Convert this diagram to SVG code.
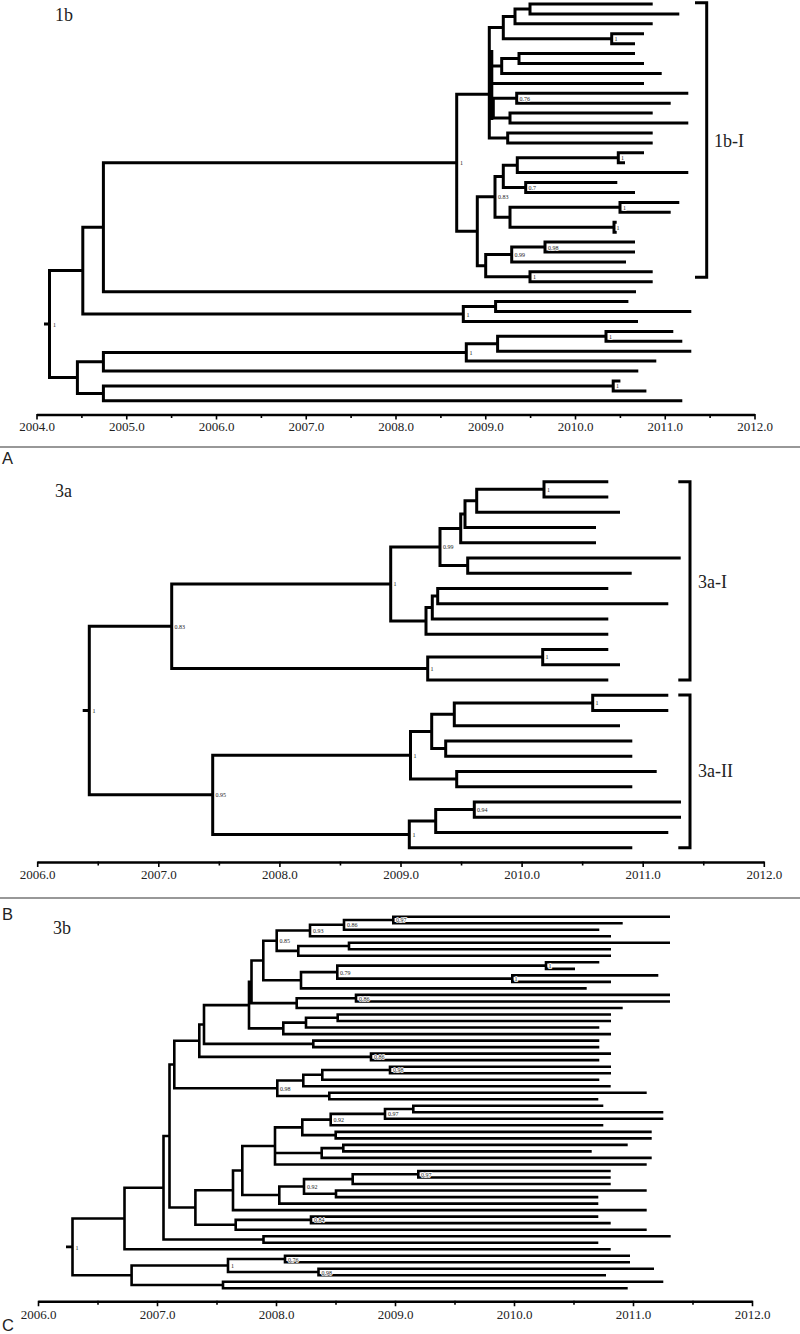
<svg xmlns="http://www.w3.org/2000/svg" width="800" height="1334" viewBox="0 0 800 1334">
<style>
.br{fill:none;stroke:#000;stroke-width:3;stroke-linejoin:miter;stroke-linecap:butt}
.brc{fill:none;stroke:#000;stroke-width:2.6;stroke-linejoin:miter;stroke-linecap:butt}
.ax{fill:none;stroke:#000;stroke-width:2.5}
.tk{fill:none;stroke:#000;stroke-width:1.6}
.tl{font-family:"Liberation Serif",serif;font-size:13px;text-anchor:middle;fill:#222}
.nl{font-family:"Liberation Serif",serif;font-size:6px;fill:#222;stroke:#fff;stroke-width:1.6;paint-order:stroke}
.cl{font-family:"Liberation Serif",serif;font-size:18px;fill:#222}
.pl{font-family:"Liberation Sans",sans-serif;font-size:16.5px;fill:#222}
.sep{stroke:#333;stroke-width:1.2}
</style>
<rect width="800" height="1334" fill="#fff"/>

<!-- PANEL A -->
<g id="panelA">
<text class="cl" x="55" y="21">1b</text>
<g id="treeA">
<path class="br" d="M652.7 4H530V13.9H679.3 M530 9H515V23.8H652.7 M644 33.8H611.7V43.7H635 M515 16.4H503.3V38.75H611.7 M635 53.6H519V63.5H644 M519 58.55H501.7V73.4H661.7 M688.3 93.3H516.7V103.2H670.7 M652.7 113.1H510V123H688.3 M516.7 98.25H493.3V118.05H510 M652.7 133H507.7V142.9H652.7 M503.3 27.6H489.3V137.95H507.7 M489.3 66H501.7 M489.3 83.4H644 M489.3 108.15H493.3 M491.8 50V120"/>
<path class="br" d="M644 152.8H618.3V162.7H625 M618.3 157.75H517.3V172.6H688.3 M617.3 182.6H525.7V192.5H635 M517.3 165.2H503.3V187.55H525.7 M679.3 202.4H620V212.3H670.7 M616.7 222.2H614V232.2H616.7 M620 207.35H510V227.2H614 M503.3 176.4H495V217.3H510 M635 242.1H545V252H635 M545 247.05H511.7V261.9H626 M652.7 271.8H530V281.8H652.7 M511.7 254.5H485.7V276.8H530 M495 196.85H477.3V265.65H485.7 M489.3 94.3H456.7V231.25H477.3"/>
<path class="br" d="M456.7 162.8H103.4V291.7H636 M628.4 301.6H495.6V311.5H691.3 M495.6 306.55H463.3V321.4H638 M103.4 227.25H82.8V314H463.3 M673.3 331.4H606V341.3H682.3 M606 336.35H497.6V351.2H691.3 M497.6 343.8H466.3V361.1H656.3 M466.3 352.45H103.4V371H638.3 M620.4 381H613.2V390.9H646.4 M613.2 385.95H103.4V400.8H682.3 M103.4 361.7H77.4V393.4H103.4 M82.8 270.6H49.5V377.55H77.4 M44 324.1H49.5"/>
</g>
<g id="labelsA">
<text class="nl" x="53" y="326.5">1</text>
<text class="nl" x="460" y="165">1</text>
<text class="nl" x="614.5" y="41">1</text>
<text class="nl" x="519.5" y="100.5">0.76</text>
<text class="nl" x="621" y="160">1</text>
<text class="nl" x="528.5" y="190">0.7</text>
<text class="nl" x="498" y="199">0.83</text>
<text class="nl" x="623" y="209.5">1</text>
<text class="nl" x="616.5" y="229.5">1</text>
<text class="nl" x="514.5" y="257">0.99</text>
<text class="nl" x="548" y="249.5">0.98</text>
<text class="nl" x="533" y="279">1</text>
<text class="nl" x="466.5" y="316.5">1</text>
<text class="nl" x="469.5" y="354.5">1</text>
<text class="nl" x="609" y="338.5">1</text>
<text class="nl" x="616" y="388">1</text>
</g>
<g id="bracketA">
<path class="br" d="M695 2.7H706.7V277.3H695"/>
<text class="cl" x="714" y="147">1b-I</text>
</g>
<g id="axisA">
<path class="ax" d="M37 415H755"/>
<path class="tk" d="M37 414V419.5M81.9 414V418M126.75 414V419.5M171.6 414V418M216.5 414V419.5M261.4 414V418M306.25 414V419.5M351.1 414V418M396 414V419.5M440.9 414V418M485.75 414V419.5M530.6 414V418M575.5 414V419.5M620.4 414V418M665.25 414V419.5M710.1 414V418M755 414V419.5"/>
<text class="tl" x="37" y="430.5">2004.0</text>
<text class="tl" x="126.75" y="430.5">2005.0</text>
<text class="tl" x="216.5" y="430.5">2006.0</text>
<text class="tl" x="306.25" y="430.5">2007.0</text>
<text class="tl" x="396" y="430.5">2008.0</text>
<text class="tl" x="485.75" y="430.5">2009.0</text>
<text class="tl" x="575.5" y="430.5">2010.0</text>
<text class="tl" x="665.25" y="430.5">2011.0</text>
<text class="tl" x="755" y="430.5">2012.0</text>
</g>
<line class="sep" x1="0" y1="447" x2="800" y2="447"/>
<text class="pl" x="2" y="464">A</text>
</g>

<!-- PANEL B -->
<g id="panelB">
<text class="cl" x="55" y="497">3a</text>
<g id="treeB">
<path class="br" d="M608.3 481.7H544V497H608.3 M544 489.3H476.7V512.2H620 M476.7 500.8H465V527.5H596 M465 514.1H460.7V542.7H596 M680.7 558H467.7V573.2H631.7 M460.7 528.4H440V565.6H467.7 M608.3 588.5H437.7V603.7H668.3 M437.7 596.1H432.3V619H608.3 M432.3 607.5H426V634.2H608.3 M440 547H390.7V620.9H426 M608.3 649.5H542.7V664.7H620 M542.7 657.1H427.7V680H608.3 M390.7 584H171.7V668.5H427.7"/>
<path class="br" d="M668.3 695.2H592.7V710.5H668.3 M592.7 702.9H454.3V725.7H620 M632.3 741H445.7V756.2H632.3 M454.3 714.3H431.7V748.6H445.7 M656.7 771.5H456.7V786.7H632.3 M431.7 731.5H410.5V779.1H456.7 M681 802H474.3V817.2H681 M474.3 809.6H435.7V832.5H668.3 M435.7 821H409.3V847.7H632.3 M410.5 755.3H212.7V834.4H409.3 M171.7 626.3H89.3V794.8H212.7 M82.7 710.6H89.3"/>
</g>
<g id="labelsB">
<text class="nl" x="92.5" y="713">1</text>
<text class="nl" x="174.5" y="628.5">0.83</text>
<text class="nl" x="393.5" y="586">1</text>
<text class="nl" x="443" y="549">0.99</text>
<text class="nl" x="547" y="491.5">1</text>
<text class="nl" x="430.5" y="670.5">1</text>
<text class="nl" x="545.5" y="659">1</text>
<text class="nl" x="215.5" y="797">0.95</text>
<text class="nl" x="413.5" y="757.5">1</text>
<text class="nl" x="595.5" y="705">1</text>
<text class="nl" x="477" y="812">0.94</text>
<text class="nl" x="412.5" y="836.5">1</text>
</g>
<g id="bracketB">
<path class="br" d="M678.3 481.7H690V680H678.3"/>
<path class="br" d="M678.3 695H690V847.7H678.3"/>
<text class="cl" x="698" y="587.5">3a-I</text>
<text class="cl" x="698" y="776.5">3a-II</text>
</g>
<g id="axisB">
<path class="ax" d="M37.7 862.5H764.3"/>
<path class="tk" d="M37.7 861.5V867M98.25 861.5V865.5M158.8 861.5V867M219.35 861.5V865.5M279.9 861.5V867M340.45 861.5V865.5M401 861.5V867M461.55 861.5V865.5M522.1 861.5V867M582.65 861.5V865.5M643.2 861.5V867M703.75 861.5V865.5M764.3 861.5V867"/>
<text class="tl" x="37.7" y="878.5">2006.0</text>
<text class="tl" x="158.8" y="878.5">2007.0</text>
<text class="tl" x="279.9" y="878.5">2008.0</text>
<text class="tl" x="401" y="878.5">2009.0</text>
<text class="tl" x="522.1" y="878.5">2010.0</text>
<text class="tl" x="643.2" y="878.5">2011.0</text>
<text class="tl" x="764.3" y="878.5">2012.0</text>
</g>
<line class="sep" x1="0" y1="898" x2="800" y2="898"/>
<text class="pl" x="2" y="920">B</text>
</g>

<!-- PANEL C -->
<g id="panelC">
<text class="cl" x="53" y="934">3b</text>
<g id="treeC">
<path class="brc" d="M670 916.7H393.3V923.2H622.7 M393.3 919.95H344V929.7H599.3 M344 924.8H310V936.3H611 M670 942.8H349V949.3H611 M349 946.05H298.3V955.8H611 M310 930.55H276.7V950.9H298.3 M599.3 962.3H546V968.9H575 M658.3 975.4H512.3V981.9H611 M546 965.6H337.3V978.65H512.3 M337.3 972.1H301V988.4H586.7 M276.7 940.7H263.3V980.25H301 M670 994.9H356V1001.5H670 M356 998.2H296.7V1008H622.7 M263.3 960.5H251.5V1003.1H296.7 M611 1014.5H337.7V1021H611 M337.7 1017.75H306V1027.5H599.3 M306 1022.6H283.3V1034.1H611 M251.5 981.8H249V1028.35H283.3 M599.3 1040.6H313.3V1047.1H599.3 M249 1005.1H204V1043.85H313.3 M611 1053.6H371V1060.1H599.3 M204 1024.5H199.3V1056.85H371 M611 1066.7H390V1073.2H611 M390 1069.95H322.3V1079.7H599.3 M322.3 1074.8H303.3V1086.2H610.7 M646.7 1092.7H329.3V1099.3H598.3 M303.3 1080.5H277.3V1096H329.3 M199.3 1040.7H174.3V1088.25H277.3"/>
<path class="brc" d="M603.3 1105.8H413.3V1112.3H663.3 M413.3 1109.05H385V1118.8H663.3 M385 1113.9H330.7V1125.3H603.3 M651.7 1131.9H335.7V1138.4H651.7 M330.7 1119.6H302.3V1135.15H335.7 M627.7 1144.9H343.3V1151.4H591.7 M343.3 1148.15H321.7V1157.9H651.7 M302.3 1127.4H275V1164.5H646.7 M275 1153H321.7 M610.7 1171H418.3V1177.5H610.7 M418.3 1174.25H352.7V1184H610.7 M646.7 1190.5H336V1197.1H598.3 M352.7 1179.1H304V1193.8H336 M304 1186.45H279.3V1203.6H598.3 M275 1145.95H242.3V1195H279.3 M242.3 1170.5H233V1210.1H646.7 M598.3 1216.6H311V1223.1H610.7 M311 1219.85H235.7V1229.7H646.7 M233 1190.3H195.4V1224.8H235.7 M174.3 1064.5H169.5V1207.55H195.4 M670.7 1236.2H263.5V1242.7H598.3 M169.5 1136H163.5V1239.45H263.5 M163.5 1187.7H124.5V1249.2H610.7"/>
<path class="brc" d="M630 1255.7H285V1262.3H630 M654 1268.8H318.5V1275.3H606 M285 1259H228V1272.05H318.5 M663.3 1281.8H223V1288.3H627.7 M228 1265.5H131.6V1285.05H223 M124.5 1218.45H72.5V1275.3H131.6 M66 1246.9H72.5"/>
</g>
<g id="labelsC">
<text class="nl" x="396" y="922">0.97</text>
<text class="nl" x="347" y="927">0.86</text>
<text class="nl" x="313" y="933">0.93</text>
<text class="nl" x="279.5" y="943">0.85</text>
<text class="nl" x="548.5" y="968">1</text>
<text class="nl" x="514.5" y="981">1</text>
<text class="nl" x="340" y="974.5">0.79</text>
<text class="nl" x="359" y="1000.5">0.86</text>
<text class="nl" x="374" y="1059">0.86</text>
<text class="nl" x="393" y="1072">0.98</text>
<text class="nl" x="280" y="1090.5">0.98</text>
<text class="nl" x="388" y="1116">0.97</text>
<text class="nl" x="333.5" y="1122">0.92</text>
<text class="nl" x="421" y="1176.5">0.97</text>
<text class="nl" x="307" y="1189">0.92</text>
<text class="nl" x="314" y="1222">0.84</text>
<text class="nl" x="288" y="1261.5">0.76</text>
<text class="nl" x="321.5" y="1274.5">0.98</text>
<text class="nl" x="231" y="1268">1</text>
<text class="nl" x="75.5" y="1249.5">1</text>
</g>
<g id="axisC">
<path class="ax" d="M38.5 1301.7H752.5"/>
<path class="tk" d="M38.5 1300.7V1306.2M98 1300.7V1304.7M157.5 1300.7V1306.2M217 1300.7V1304.7M276.5 1300.7V1306.2M336 1300.7V1304.7M395.5 1300.7V1306.2M455 1300.7V1304.7M514.5 1300.7V1306.2M574 1300.7V1304.7M633.5 1300.7V1306.2M693 1300.7V1304.7M752.5 1300.7V1306.2"/>
<text class="tl" x="38.5" y="1318.5">2006.0</text>
<text class="tl" x="157.5" y="1318.5">2007.0</text>
<text class="tl" x="276.5" y="1318.5">2008.0</text>
<text class="tl" x="395.5" y="1318.5">2009.0</text>
<text class="tl" x="514.5" y="1318.5">2010.0</text>
<text class="tl" x="633.5" y="1318.5">2011.0</text>
<text class="tl" x="752.5" y="1318.5">2012.0</text>
</g>
<text class="pl" x="2" y="1331">C</text>
</g>
</svg>
